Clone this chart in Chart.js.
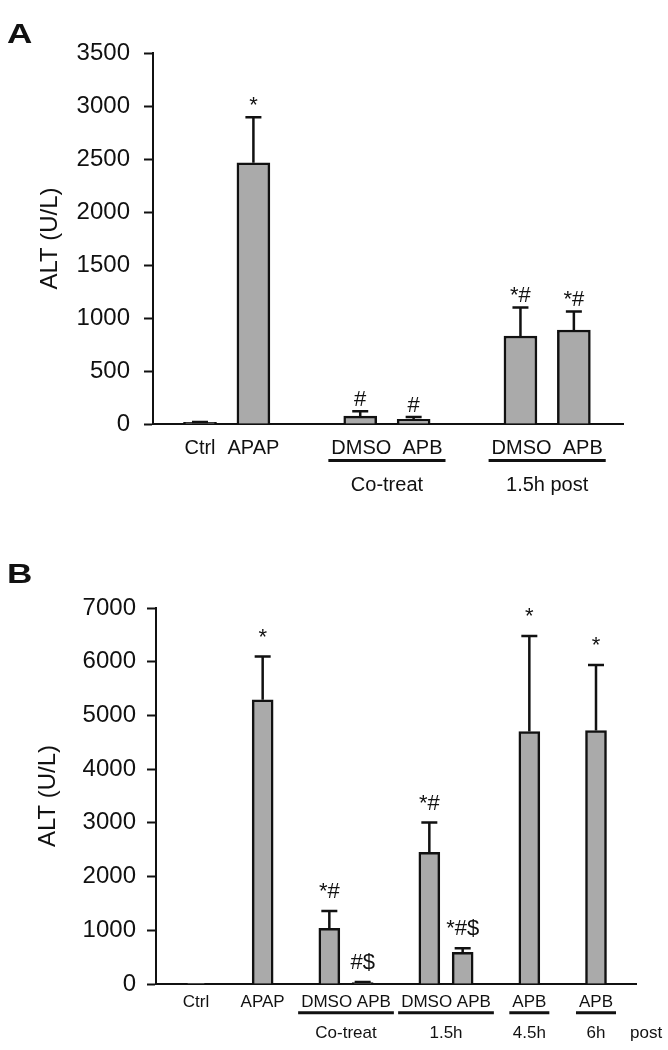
<!DOCTYPE html>
<html>
<head>
<meta charset="utf-8">
<title>ALT</title>
<script src="https://cdn.jsdelivr.net/npm/chart.js@4.4.0/dist/chart.umd.min.js"></script>
<style>
  html, body { margin: 0; padding: 0; background: #fff; }
  #page { position: relative; width: 668px; height: 1050px; overflow: hidden; }
  canvas { position: absolute; left: 0; }
  .letter { position: absolute; left: 7px; font: bold 27px "Liberation Sans", Arial, sans-serif; line-height: 1; color: #111; transform: scaleX(1.3); transform-origin: left top; }
</style>
</head>
<body>
<div id="page">
  <canvas id="chartA" width="668" height="520" style="top:0"></canvas>
  <canvas id="chartB" width="668" height="530" style="top:520px"></canvas>
  <div class="letter" style="top:21px">A</div>
  <div class="letter" style="top:561px">B</div>
</div>
<script>
// Panel A: slots on the x axis, null = empty gap
const catsA = ['Ctrl', 'APAP', null, 'DMSO', 'APB', null, 'DMSO', 'APB'];
const valsA = [15, 2465, null, 75, 45, null, 830, 887];
const errsA = [5, 430, null, 45, 20, null, 270, 175];
const sigsA = ['', '*', null, '#', '#', null, '*#', '*#'];
const groupNamesA = ['Co-treat', '1.5h post'];
const groupSlotsA = [[3, 4], [6, 7]];
const yMaxA = 3500;
const yStepA = 500;

// Panel B
const catsB = ['Ctrl', null, 'APAP', null, 'DMSO', 'APB', null, 'DMSO', 'APB', null, 'APB', null, 'APB'];
const valsB = [5, null, 5290, null, 1035, 25, null, 2450, 590, null, 4700, null, 4720];
const errsB = [0, null, 805, null, 325, 10, null, 555, 75, null, 1780, null, 1220];
const sigsB = ['', null, '*', null, '*#', '#$', null, '*#', '*#$', null, '*', null, '*'];
const groupNamesB = ['Co-treat', '1.5h', '4.5h', '6h'];
const groupSlotsB = [[4, 5], [7, 8], [10], [12]];
const trailingB = 'post';
const yMaxB = 7000;
const yStepB = 1000;

const FONT = '"Liberation Sans", Arial, Helvetica, sans-serif';
const INK = '#111';
Chart.defaults.font.family = FONT;
Chart.defaults.color = INK;

function buildPoints(vals, errs, sigs) {
    const pts = [];
    vals.forEach((v, i) => {
        if (v !== null) pts.push({ x: i, y: v, err: errs[i], sig: sigs[i] });
    });
    return pts;
}

function buildTicks(cats, groupNames, groupSlots, sep) {
    const grouped = new Set(groupSlots.flat());
    const ticks = [];
    cats.forEach((c, i) => {
        if (c && !grouped.has(i)) ticks.push({ value: i, label: c });
    });
    groupSlots.forEach((slots, g) => {
        const centre = (slots[0] + slots[slots.length - 1]) / 2;
        ticks.push({ value: centre, label: [slots.map(s => cats[s]).join(sep), groupNames[g]] });
    });
    return ticks.sort((a, b) => a.value - b.value);
}

// error bars, significance marks, group underlines
const decor = {
    id: 'decor',
    afterDatasetsDraw(chart, args, o) {
        const { ctx } = chart;
        const y = chart.scales.y;
        const pts = chart.data.datasets[0].data;
        ctx.save();
        ctx.strokeStyle = INK;
        ctx.fillStyle = INK;
        ctx.lineWidth = 2.5;
        ctx.font = o.sigSize + 'px ' + FONT;
        ctx.textAlign = 'center';
        ctx.textBaseline = 'alphabetic';
        chart.getDatasetMeta(0).data.forEach((bar, i) => {
            const p = pts[i];
            const top = y.getPixelForValue(p.y + p.err);
            if (p.err > 0) {
                ctx.beginPath();
                ctx.moveTo(bar.x, bar.y);
                ctx.lineTo(bar.x, top);
                ctx.moveTo(bar.x - 8, top);
                ctx.lineTo(bar.x + 8, top);
                ctx.stroke();
            }
            if (p.sig) ctx.fillText(p.sig, bar.x, top - o.sigGap);
        });
        ctx.restore();
    },
    afterDraw(chart, args, o) {
        const { ctx } = chart;
        const x = chart.scales.x;
        const tf = x.options.ticks.font;
        const lh = tf.size * tf.lineHeight;
        const lineY = x.top + x.options.ticks.padding + lh / 2 + tf.size * 0.6;
        ctx.save();
        ctx.font = tf.size + 'px ' + FONT;
        ctx.strokeStyle = INK;
        ctx.fillStyle = INK;
        ctx.lineWidth = 3;
        o.ticks.forEach(t => {
            if (!Array.isArray(t.label)) return;
            const cx = x.getPixelForValue(t.value);
            const w = ctx.measureText(t.label[0]).width + 6;
            ctx.beginPath();
            ctx.moveTo(cx - w / 2, lineY);
            ctx.lineTo(cx + w / 2, lineY);
            ctx.stroke();
        });
        if (o.trailing) {
            ctx.textAlign = 'left';
            ctx.textBaseline = 'middle';
            ctx.fillText(o.trailing, x.right - 6, x.top + x.options.ticks.padding + lh * 1.5);
        }
        ctx.restore();
    }
};

function makePanel(id, p) {
    const ticks = buildTicks(p.cats, p.groupNames, p.groupSlots, p.sep);
    return new Chart(document.getElementById(id), {
        type: 'bar',
        data: {
            datasets: [{
                data: buildPoints(p.vals, p.errs, p.sigs),
                backgroundColor: '#aaaaaa',
                borderColor: INK,
                borderWidth: 2.5,
                barThickness: p.barWidth
            }]
        },
        options: {
            responsive: false,
            animation: false,
            devicePixelRatio: 1,
            layout: { padding: { left: 0, right: p.padRight, top: p.padTop, bottom: 0 } },
            plugins: {
                legend: { display: false },
                tooltip: { enabled: false },
                decor: { ticks: ticks, sigSize: 22, sigGap: p.sigGap, trailing: p.trailing }
            },
            scales: {
                x: {
                    type: 'linear',
                    offset: false,
                    min: p.xMin,
                    max: p.xMax,
                    afterBuildTicks: s => { s.ticks = ticks.map(t => ({ value: t.value })); },
                    afterFit: s => { s.height = p.xHeight; },
                    ticks: {
                        autoSkip: false,
                        maxRotation: 0,
                        minRotation: 0,
                        padding: p.labelPad,
                        color: INK,
                        font: { size: p.labelSize, lineHeight: p.labelLine },
                        callback: (v, i) => ticks[i].label
                    },
                    grid: { display: false, drawTicks: false },
                    border: { display: true, color: INK, width: 2 }
                },
                y: {
                    min: 0,
                    max: p.yMax,
                    afterFit: s => { s.width = p.yWidth; },
                    ticks: { stepSize: p.yStep, padding: p.yPad, color: INK, font: { size: 24 }, callback: v => String(v) },
                    grid: { display: true, drawOnChartArea: false, drawTicks: true, tickLength: 9, tickWidth: 2, tickColor: INK },
                    border: { display: true, color: INK, width: 2 },
                    title: {
                        display: true,
                        text: 'ALT (U/L)',
                        color: INK,
                        font: { size: 24 },
                        padding: { top: p.titlePad, bottom: 0 }
                    }
                }
            }
        },
        plugins: [decor]
    });
}

makePanel('chartA', {
    cats: catsA, vals: valsA, errs: errsA, sigs: sigsA,
    groupNames: groupNamesA, groupSlots: groupSlotsA, sep: '  ',
    yMax: yMaxA, yStep: yStepA,
    xMin: -0.88, xMax: 7.92, barWidth: 33,
    padTop: 53, padRight: 45, xHeight: 96, yWidth: 153, yPad: 14, titlePad: 36,
    labelSize: 20, labelLine: 1.85, labelPad: 6, sigGap: 5, trailing: null
});

makePanel('chartB', {
    cats: catsB, vals: valsB, errs: errsB, sigs: sigsB,
    groupNames: groupNamesB, groupSlots: groupSlotsB, sep: ' ',
    yMax: yMaxB, yStep: yStepB,
    xMin: -1.2, xMax: 13.2, barWidth: 21,
    padTop: 88, padRight: 32, xHeight: 66, yWidth: 156, yPad: 11, titlePad: 34,
    labelSize: 17, labelLine: 1.82, labelPad: 3, sigGap: 13, trailing: trailingB
});
</script>
</body>
</html>
